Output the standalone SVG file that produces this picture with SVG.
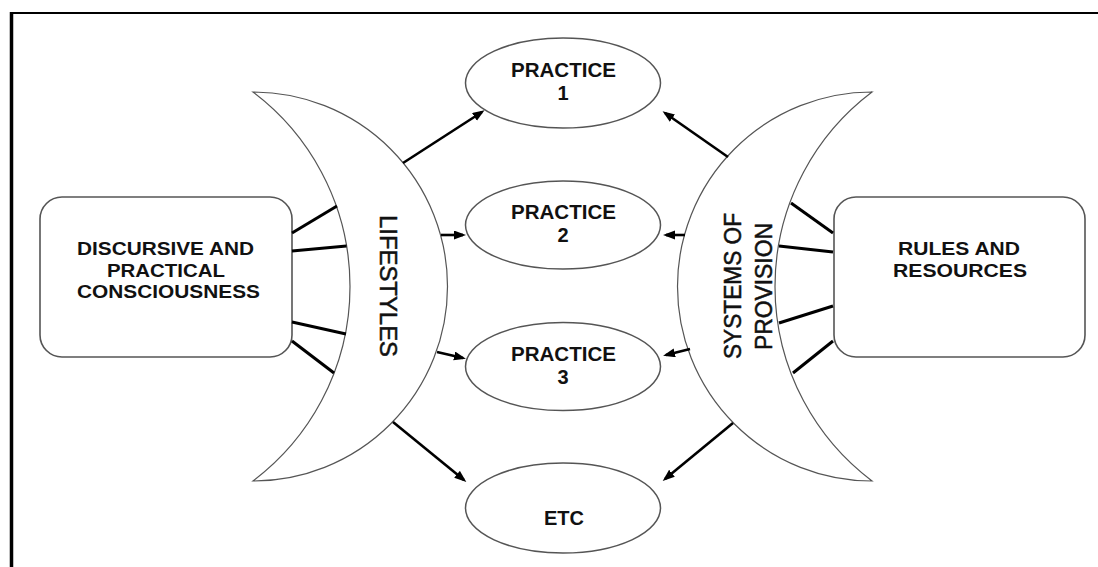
<svg xmlns="http://www.w3.org/2000/svg" width="1098" height="567" viewBox="0 0 1098 567">
<style>
.box{fill:#fff;stroke:#555;stroke-width:1.6}
.ell{fill:#fff;stroke:#555;stroke-width:1.5}
.cres{fill:#fff;stroke:#555;stroke-width:1.2}
.bt{font-family:"Liberation Sans",Arial,sans-serif;font-weight:bold;font-size:18px;fill:#111;text-anchor:middle}
.et{font-family:"Liberation Sans",Arial,sans-serif;font-weight:bold;font-size:20px;fill:#111;text-anchor:middle}
.ct{font-family:"Liberation Sans",Arial,sans-serif;font-size:23px;fill:#111;stroke:#111;stroke-width:0.5;text-anchor:middle}
.link{stroke:#000;stroke-width:3;fill:none}
.arr{stroke:#000;stroke-width:2.6;fill:none;marker-end:url(#ah)}
</style>
<defs>
<marker id="ah" markerUnits="userSpaceOnUse" markerWidth="12" markerHeight="10" refX="9" refY="4.5" orient="auto">
<path d="M0,0 L12,4.5 L0,9 Z" fill="#000"/>
</marker>
</defs>
<rect width="1098" height="567" fill="#fff"/>
<g id="frame">
<line x1="11" y1="13" x2="1098" y2="13" stroke="#000" stroke-width="2"/>
<line x1="11.5" y1="12" x2="11.5" y2="567" stroke="#000" stroke-width="3.5"/>
</g>
<g id="lifestyles">
<path class="cres" d="M253,92 A194.5,194.5 0 0 1 253,481 A243.5,243.5 0 0 0 253,92 Z"/>
<text class="ct" font-size="24" transform="translate(380,286) rotate(90)" textLength="142" lengthAdjust="spacingAndGlyphs">LIFESTYLES</text>
</g>
<g id="systems-of-provision">
<path class="cres" d="M872,92 A194.5,194.5 0 0 0 872,481 A243.5,243.5 0 0 1 872,92 Z"/>
<text class="ct" transform="translate(741,286) rotate(-90)" textLength="146" lengthAdjust="spacingAndGlyphs">SYSTEMS OF</text>
<text class="ct" transform="translate(772,286.5) rotate(-90)" textLength="127" lengthAdjust="spacingAndGlyphs">PROVISION</text>
</g>
<g id="consciousness">
<rect class="box" x="40" y="197" width="252" height="160" rx="22" ry="22"/>
<text class="bt" x="165.5" y="255" textLength="177" lengthAdjust="spacingAndGlyphs">DISCURSIVE AND</text>
<text class="bt" x="166" y="277" textLength="118" lengthAdjust="spacingAndGlyphs">PRACTICAL</text>
<text class="bt" x="168.5" y="298" textLength="183" lengthAdjust="spacingAndGlyphs">CONSCIOUSNESS</text>
</g>
<g id="rules-resources">
<rect class="box" x="834" y="197" width="251" height="160" rx="22" ry="22"/>
<text class="bt" x="959" y="255" textLength="122" lengthAdjust="spacingAndGlyphs">RULES AND</text>
<text class="bt" x="960" y="277" textLength="134" lengthAdjust="spacingAndGlyphs">RESOURCES</text>
</g>
<g id="practice1">
<ellipse class="ell" cx="563" cy="83" rx="97.5" ry="45"/>
<text class="et" x="563.5" y="77" textLength="105" lengthAdjust="spacingAndGlyphs">PRACTICE</text>
<text class="et" x="563" y="100">1</text>
</g>
<g id="practice2">
<ellipse class="ell" cx="563" cy="225" rx="97.5" ry="44"/>
<text class="et" x="563.5" y="219" textLength="105" lengthAdjust="spacingAndGlyphs">PRACTICE</text>
<text class="et" x="563" y="242">2</text>
</g>
<g id="practice3">
<ellipse class="ell" cx="563" cy="366.5" rx="97.5" ry="44"/>
<text class="et" x="563.5" y="360.5" textLength="105" lengthAdjust="spacingAndGlyphs">PRACTICE</text>
<text class="et" x="563" y="383.5">3</text>
</g>
<g id="etc">
<ellipse class="ell" cx="563" cy="508" rx="97.5" ry="45"/>
<text class="et" x="564" y="525">ETC</text>
</g>
<g id="connectors">
<line class="link" x1="292" y1="233" x2="337" y2="206"/>
<line class="link" x1="292" y1="251" x2="346.5" y2="246"/>
<line class="link" x1="292" y1="322" x2="346" y2="334"/>
<line class="link" x1="292" y1="341" x2="334" y2="373"/>
<line class="link" x1="833" y1="233" x2="791" y2="203"/>
<line class="link" x1="833" y1="252" x2="779" y2="246"/>
<line class="link" x1="833" y1="306" x2="779" y2="323"/>
<line class="link" x1="833" y1="341" x2="793" y2="373"/>
<line class="arr" x1="403" y1="163" x2="482" y2="112"/>
<line class="arr" x1="441" y1="235" x2="463" y2="235"/>
<line class="arr" x1="437" y1="352" x2="463" y2="358"/>
<line class="arr" x1="393" y1="422" x2="464" y2="480"/>
<line class="arr" x1="728" y1="157" x2="665" y2="113"/>
<line class="arr" x1="685" y1="235" x2="666" y2="235"/>
<line class="arr" x1="690" y1="349" x2="666" y2="355"/>
<line class="arr" x1="733" y1="423" x2="665" y2="479"/>
</g>
</svg>
